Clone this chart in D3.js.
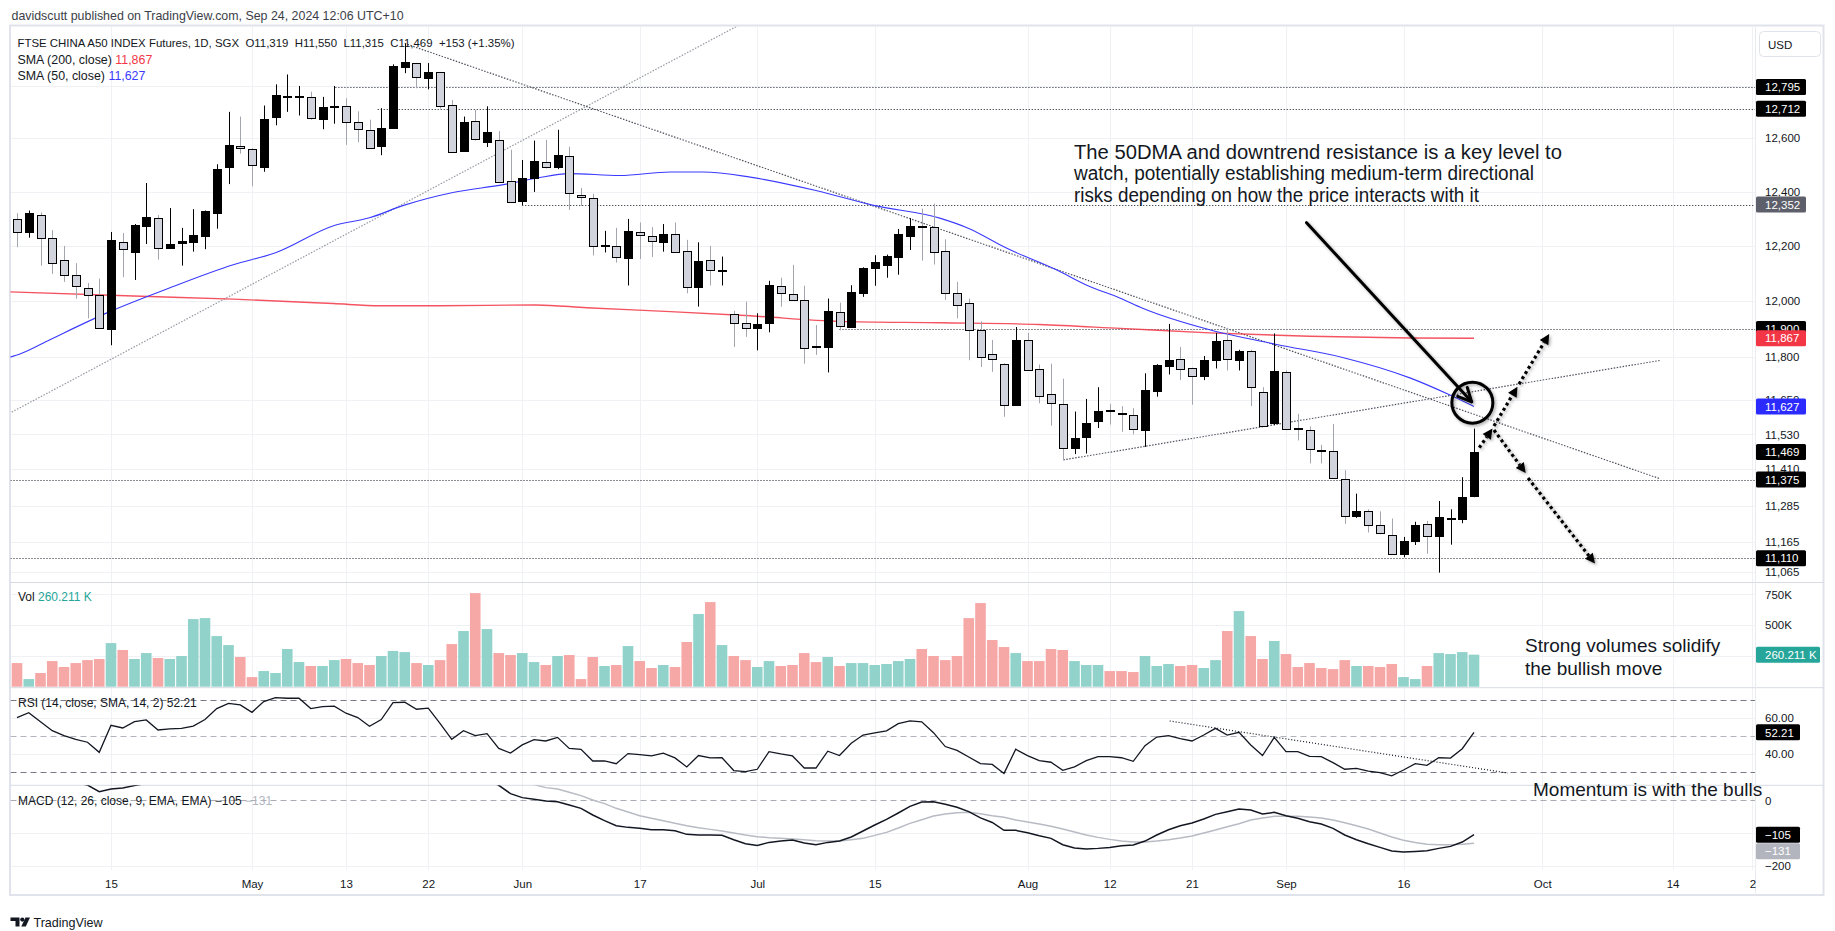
<!DOCTYPE html>
<html><head><meta charset="utf-8">
<script src="https://cdn.jsdelivr.net/npm/d3@7"></script>
<style>
html,body{margin:0;padding:0;background:#fff;}
svg{display:block;font-family:"Liberation Sans",Arial,sans-serif;}
</style></head><body>
<svg id="c" width="1835" height="931"></svg>
<script>
// ---------------- DATA ----------------
const opens=[12300,12250,12312,12228,12148,12093,12048,12020,11900,12213,
12178,12274,12301,12194,12209,12215,12237,12321,12493,12571,
12560,12493,12681,12758,12758,12756,12673,12719,12724,12660,
12632,12570,12638,12873,12886,12828,12851,12726,12552,12666,
12585,12594,12439,12365,12450,12509,12493,12532,12388,12377,
12199,12199,12157,12251,12237,12215,12243,12181,12052,12148,
12110,11953,11921,11902,11920,12053,12024,12003,11839,11835,
11962,11907,12030,12118,12132,12161,12237,12274,12268,12181,
12028,11992,11897,11812,11776,11633,11860,11759,11670,11634,
11482,11522,11575,11615,11605,11598,11546,11682,11769,11792,
11761,11733,11789,11861,11789,11822,11678,11570,11747,11551,
11544,11477,11471,11378,11253,11267,11222,11186,11125,11169,
11223,11185,11240,11240,11319];
const highs=[12320,12330,12323,12258,12200,12137,12065,12081,12251,12247,
12280,12432,12313,12339,12266,12335,12330,12502,12700,12682,
12562,12724,12805,12843,12799,12777,12757,12799,12752,12702,
12670,12714,12882,12963,12888,12887,12853,12745,12682,12708,
12721,12627,12557,12518,12591,12594,12632,12568,12414,12392,
12255,12266,12299,12286,12269,12280,12286,12222,12213,12200,
12161,11965,11998,11956,12073,12084,12131,12055,11914,12009,
11994,12057,12122,12166,12168,12262,12302,12337,12355,12224,
12069,12009,11927,11861,11778,11907,11886,11774,11777,11724,
11609,11653,11694,11636,11628,11621,11743,11775,11918,11836,
11763,11804,11886,11904,11826,11826,11694,11884,11753,11601,
11557,11494,11566,11407,11327,11274,11267,11243,11181,11232,
11235,11302,11274,11383,11550];
const lows=[12195,12230,12128,12098,12069,12008,11938,11900,11842,12086,
12076,12207,12150,12190,12128,12179,12188,12263,12428,12542,
12420,12474,12649,12700,12686,12670,12634,12655,12575,12585,
12560,12536,12636,12848,12790,12786,12712,12545,12550,12591,
12567,12435,12360,12350,12399,12486,12484,12332,12347,12165,
12176,12139,12056,12152,12159,12179,12178,12028,11980,12056,
12056,11836,11872,11824,11888,11980,12000,11777,11808,11746,
11895,11905,12015,12055,12084,12095,12185,12146,12132,12004,
11938,11789,11765,11748,11591,11630,11753,11638,11560,11442,
11462,11464,11552,11564,11539,11530,11487,11661,11739,11719,
11633,11719,11760,11753,11753,11628,11558,11562,11546,11509,
11430,11430,11377,11225,11245,11196,11190,11121,11113,11154,
11125,11062,11155,11227,11315];
const closes=[12250,12320,12228,12139,12093,12053,12020,11902,12222,12188,
12276,12305,12192,12207,12217,12240,12327,12484,12576,12563,
12500,12673,12764,12762,12760,12677,12720,12724,12662,12635,
12563,12639,12876,12891,12832,12851,12724,12548,12662,12598,
12624,12437,12362,12452,12513,12490,12536,12395,12381,12199,
12202,12159,12255,12240,12217,12243,12179,12050,12144,12111,
12113,11921,11904,11918,12057,12028,12003,11833,11837,11965,
11910,12031,12120,12142,12164,12244,12274,12268,12177,12028,
11985,11897,11801,11794,11631,11859,11755,11665,11638,11482,
11519,11568,11611,11612,11602,11550,11684,11772,11790,11758,
11733,11790,11858,11792,11823,11694,11560,11751,11548,11549,
11478,11475,11379,11253,11267,11220,11193,11123,11169,11220,
11185,11247,11244,11316,11469];
// volume in thousands
const volumes=[192,62,111,208,160,192,216,225,354,298,
225,273,233,225,249,549,557,411,338,241,
78,127,111,306,200,168,168,216,225,192,
176,249,290,281,192,176,216,346,452,760,
468,273,257,273,200,176,249,257,62,241,
168,176,330,208,152,176,160,363,590,687,
338,249,216,160,208,168,176,273,200,241,
168,192,192,176,184,208,225,306,249,216,
249,557,679,379,322,273,208,208,306,298,
208,176,176,127,127,119,249,168,184,168,
176,152,216,452,614,411,225,371,265,160,
192,152,143,216,168,168,160,184,78,62,
168,273,265,281,260.211];
const rsi=[60.4,63.1,58.1,53.1,50.4,48.3,46.7,41.1,56.1,54.6,
58.1,59.1,53.5,54.1,54.4,55.7,59.3,65.4,68.3,67.4,
63.3,69.3,71.5,71.1,71.1,65.4,66.5,66.7,62.8,60.4,
55.6,59.3,68.7,68.9,65.0,65.6,57.2,48.3,53.1,50.4,
51.5,43.3,40.7,45.2,48.1,47.4,49.4,43.3,42.8,36.3,
36.3,34.8,40.4,39.8,39.1,40.6,38.0,33.0,39.3,38.0,
38.1,31.0,30.4,31.7,41.5,40.2,39.1,32.4,32.4,41.7,
39.3,46.1,50.7,51.9,53.0,57.0,58.5,58.0,52.0,44.3,
42.2,38.5,34.8,34.4,29.4,42.8,39.3,36.5,35.6,31.1,
33.0,36.5,38.7,38.7,38.1,36.1,44.8,49.6,50.4,48.7,
47.4,50.7,54.4,50.7,52.2,45.2,39.3,49.4,41.5,41.5,
38.9,38.7,35.4,31.7,32.2,30.7,29.8,28.0,31.3,34.8,
33.9,38.1,37.9,43.1,52.21];
const macd=[80,78,74,68,62,55,46.5,26.5,34.7,37.8,
44.9,52,54,56,58,60,64,74,86,94,
98,108,120,128,134,135,136,136,133,128,
120,116,122,128,128,128,120,104,96,84,
64,46,20.4,8.2,3.1,-2.0,-4.1,-14.3,-24.5,-44.9,
-62.2,-77.6,-82.7,-85.7,-89.8,-89.8,-92.9,-104.1,-106.1,-106.1,
-107.1,-120.4,-132.7,-137.8,-128.6,-124.5,-121.4,-130.6,-135.7,-128.6,
-124.5,-112.2,-93.9,-75.5,-58.2,-38.8,-18.4,-5.1,-4.1,-12.2,
-21.4,-34.7,-53.6,-67.8,-91.8,-91.8,-99.0,-108.2,-116.3,-135.7,
-145.9,-149.0,-146.9,-143.9,-138.8,-136.7,-124.5,-106.1,-89.8,-77.6,
-69.4,-57.1,-42.9,-34.7,-26.5,-29.6,-41.8,-36.7,-46.9,-55.1,
-65.3,-72.4,-85.7,-106.1,-120.4,-132.7,-143.9,-155.1,-158.2,-156.1,
-154.1,-146.9,-140.8,-127.6,-105];
const signal=[70,71,71,70,69,67,64,57,53,50,
49,50,51,52,53,55,57,60,65,71,
76,82,90,97,104,110,115,119,122,123,
123,122,122,123,124,125,124,120,115,109,
101,85,72,59,48,38.8,34.7,24.5,14.3,1.0,
-10.2,-24.5,-35.7,-46.9,-55.1,-62.2,-70.4,-77.6,-83.7,-88.8,
-93.9,-100,-106.1,-111.2,-114.3,-116.3,-118.4,-120.4,-123.5,-124.5,
-124.5,-120.4,-116.3,-107.1,-98,-84.7,-70.4,-59.2,-48,-41.8,
-37.8,-36.7,-40.8,-46.9,-52.0,-60.2,-66.3,-72.4,-79.6,-87.8,
-96.9,-106.1,-113.3,-119.4,-124.5,-127.6,-127.6,-124.5,-120.4,-115.3,
-109.2,-100,-90.8,-80.6,-71.4,-60.2,-54.1,-49.0,-49.0,-49.0,
-51.0,-54.1,-60.2,-68.4,-77.6,-87.8,-100,-112,-122,-129,
-134,-136,-136,-134,-131];
// moving averages read at bar positions [bar index, value]
const sma50=[[-0.6,11800],[0.3,11812],[2.8,11862],[7.9,11962],[12.8,12044],[18.4,12131],[22,12175],[27,12275],[30,12303],[32.9,12349],[37.1,12397],[41.4,12426],[44.2,12450],[47,12467],[51.3,12460],[55.6,12473],[58.4,12473],[62.4,12454],[68,12404],[72.9,12349],[78.6,12301],[81,12264],[84.2,12192],[88.5,12112],[91,12058],[93.9,12010],[95.8,11974],[101.5,11897],[107.2,11845],[112.9,11798],[118.6,11726],[122,11666],[124,11627]];
const sma200=[[-0.6,12033],[9.9,12018],[18.4,12007],[26.9,11991],[30.9,11983],[35.7,11983],[44.2,11986],[48.5,11976],[55.6,11962],[62.4,11947],[70,11927],[78.6,11922],[87,11916],[93.9,11902],[101.5,11886],[110,11874],[118.6,11868],[124,11867]];
// horizontal levels and where they start (bar index)
const levelPrices=[12795,12712,12352,11900,11375,11110];
const levelStart=[27.1,30.7,43,70,-1,-1];
// trend lines [bar index, price]
const downTrend=[[33,12963],[139.8,11378]];
const supportTrend=[[89.05,11442],[139.8,11788]];
const earlyTrend=[[-0.45,11607],[61.8,13043]];
const rsiTrend=[[98.1,58.5],[126.9,29.6]];
// annotation drawings [bar index, price]
const bigArrow=[[109.75,12285],[123.8,11643]];
const circleAt=[123.86,11640];
const upArrows=[[[124.45,11484],[125.57,11550]],[[125.7,11559],[127.7,11696]],[[127.83,11705],[130.4,11882]]];
const downArrows=[[[125.7,11545],[128.4,11397]],[[128.6,11380],[134.3,11092]]];
// axis ticks
const priceGrid=[12800,12600,12400,12200,12000,11800,11650,11530,11410,11285,11165,11065];
const priceTicks=[12600,12400,12200,12000,11800,11650,11530,11410,11285,11165,11065];
const volTicks=[750,500];
const volGrid=[750,500,250];
const rsiTicks=[60,40];
const macdTicks=[0,-200];
const macdGrid=[-100,-200];
const timeTickIdx=[8,20,28,35,43,53,63,73,86,93,100,108,118,129.8,140.9,147.7];
const timeTickLabels=['15','May','13','22','Jun','17','Jul','15','Aug','12','21','Sep','16','Oct','14','2'];

// ---------------- LAYOUT ----------------
const svg=d3.select('#c');
const paneL=10.5, paneR=1755;
const pTop=26.5, pBot=582.5, vBot=687.7, rBot=785.3, mBot=870;
const x=d3.scaleLinear().domain([0,124]).range([17,1474]);
const yP=d3.scaleLog().domain([11031,13029]).range([582,26.5]);
const yV=d3.scaleLinear().domain([0,842]).range([686.7,583]);
const yR=d3.scaleLinear().domain([22.8,76.8]).range([785.3,688]);
const yM=d3.scaleLinear().domain([-213,45.9]).range([870,785.3]);
const ink='#131722';

const defs=svg.append('defs');
function clip(id,y0,y1){defs.append('clipPath').attr('id',id).append('rect').attr('x',paneL).attr('y',y0).attr('width',paneR-paneL).attr('height',y1-y0);}
clip('cp',pTop,pBot);clip('cv',pBot,vBot);clip('cr',vBot,rBot);clip('cm',rBot,mBot);clip('call',pTop,mBot+30);
const sh=defs.append('filter').attr('id','shadow').attr('x','-20%').attr('y','-20%').attr('width','140%').attr('height','140%');
sh.append('feDropShadow').attr('dx',1.5).attr('dy',1.5).attr('stdDeviation',1.5).attr('flood-color','#000').attr('flood-opacity',0.35);

// grid
const grid=svg.append('g').attr('clip-path','url(#call)');
timeTickIdx.forEach(t=>{const xx=Math.round(x(t))+0.5;
  if(xx<paneR) grid.append('line').attr('x1',xx).attr('x2',xx).attr('y1',pTop).attr('y2',mBot).attr('stroke','#f0f1f5');});
function hgrid(vals,sc){vals.forEach(v=>{const yy=Math.round(sc(v))+0.5;
  grid.append('line').attr('x1',paneL).attr('x2',paneR).attr('y1',yy).attr('y2',yy).attr('stroke','#f0f1f5');});}
hgrid(priceGrid,yP);hgrid(volGrid,yV);hgrid([60,40],yR);hgrid(macdGrid,yM);

// frame and separators
svg.append('rect').attr('x',paneL-0.5).attr('y',pTop-1).attr('width',1824-paneL).attr('height',895-pTop+1).attr('fill','none').attr('stroke','#e0e3eb').attr('stroke-width',2);
[pBot,vBot,rBot].forEach(v=>svg.append('line').attr('x1',paneL).attr('x2',1824).attr('y1',v).attr('y2',v).attr('stroke','#d8dbe3'));
svg.append('line').attr('x1',paneR+0.5).attr('x2',paneR+0.5).attr('y1',pTop).attr('y2',895).attr('stroke','#e9ebf0');

// ---------- price pane ----------
const gp=svg.append('g').attr('clip-path','url(#cp)');
levelPrices.forEach((p,k)=>{const yy=Math.round(yP(p))+0.5;
  gp.append('line').attr('x1',Math.max(paneL,x(levelStart[k]))).attr('x2',paneR).attr('y1',yy).attr('y2',yy)
    .attr('stroke',ink).attr('stroke-width',1).attr('stroke-dasharray','1,2');});
function tline(g,pts,sx,sy,col,w,dash){g.append('line').attr('x1',sx(pts[0][0])).attr('y1',sy(pts[0][1])).attr('x2',sx(pts[1][0])).attr('y2',sy(pts[1][1]))
  .attr('stroke',col).attr('stroke-width',w).attr('stroke-dasharray',dash);}
tline(gp,earlyTrend,x,yP,'#9598a1',1.2,'1.5,1.5');
tline(gp,downTrend,x,yP,'#50535e',1.2,'1.5,1.5');
tline(gp,supportTrend,x,yP,'#50535e',1.2,'1.5,1.5');
const maLine=d3.line().x(d=>x(d[0])).y(d=>yP(d[1])).curve(d3.curveMonotoneX);
gp.append('path').attr('d',maLine(sma200)).attr('fill','none').attr('stroke','#f23645').attr('stroke-width',1.4).attr('stroke-opacity',0.85);
gp.append('path').attr('d',maLine(sma50)).attr('fill','none').attr('stroke','#3a3aff').attr('stroke-width',1.1);

const candles=gp.append('g');
opens.forEach((o,i)=>{
  const c=closes[i],h=highs[i],l=lows[i],up=c>=o;
  const cx=Math.round(x(i));
  candles.append('line').attr('x1',cx+0.5).attr('x2',cx+0.5).attr('y1',yP(h)).attr('y2',yP(l))
    .attr('stroke',up?'#000':'#a3a6af').attr('stroke-width',1);
  const t=Math.round(yP(Math.max(o,c))),b=Math.round(yP(Math.min(o,c)));
  candles.append('rect').attr('x',cx-3.5).attr('y',t+0.5).attr('width',8).attr('height',Math.max(1,b-t))
    .attr('fill',up?'#000':'#d1d4dc').attr('stroke','#000').attr('stroke-width',1);
});

// annotation drawings
const ga=svg.append('g').attr('clip-path','url(#cp)');
(function(){
  const x1=x(bigArrow[0][0]),y1=yP(bigArrow[0][1]),x2=x(bigArrow[1][0]),y2=yP(bigArrow[1][1]);
  const ang=Math.atan2(y2-y1,x2-x1),L=15,a=0.45;
  const g=ga.append('g').attr('filter','url(#shadow)');
  g.append('line').attr('x1',x1).attr('y1',y1).attr('x2',x2).attr('y2',y2).attr('stroke','#000').attr('stroke-width',3).attr('stroke-linecap','round');
  g.append('path').attr('d',`M${x2-L*Math.cos(ang-a)},${y2-L*Math.sin(ang-a)}L${x2},${y2}L${x2-L*Math.cos(ang+a)},${y2-L*Math.sin(ang+a)}`)
    .attr('fill','none').attr('stroke','#000').attr('stroke-width',3).attr('stroke-linecap','round').attr('stroke-linejoin','round');
  g.append('circle').attr('cx',x(circleAt[0])).attr('cy',yP(circleAt[1])).attr('r',20.5).attr('fill','none').attr('stroke','#000').attr('stroke-width',3);
  function darrow(seg){const ax=x(seg[0][0]),ay=yP(seg[0][1]),bx=x(seg[1][0]),by=yP(seg[1][1]);
    const an=Math.atan2(by-ay,bx-ax),hl=10,hw=5;
    const ex=bx-hl*Math.cos(an),ey=by-hl*Math.sin(an);
    const dg=ga.append('g').attr('filter','url(#shadow)');
    dg.append('line').attr('x1',ax).attr('y1',ay).attr('x2',ex).attr('y2',ey).attr('stroke','#000').attr('stroke-width',3.2).attr('stroke-dasharray','3,3');
    dg.append('path').attr('d',`M${bx},${by}L${ex+hw*Math.sin(an)},${ey-hw*Math.cos(an)}L${ex-hw*Math.sin(an)},${ey+hw*Math.cos(an)}Z`).attr('fill','#000');}
  upArrows.forEach(darrow);downArrows.forEach(darrow);
})();

// ---------- volume pane ----------
const gv=svg.append('g').attr('clip-path','url(#cv)');
volumes.forEach((v,i)=>{const up=closes[i]>=opens[i];
  gv.append('rect').attr('x',x(i)-5.3).attr('y',yV(v)).attr('width',10.6).attr('height',yV(0)-yV(v))
    .attr('fill',up?'#91d2cb':'#f6a8a6');});

// ---------- RSI pane ----------
const gr=svg.append('g').attr('clip-path','url(#cr)');
[[70,'#787b86'],[50,'#b2b5be'],[30,'#787b86']].forEach(([v,col])=>{const yy=Math.round(yR(v))+0.5;
  gr.append('line').attr('x1',paneL).attr('x2',paneR).attr('y1',yy).attr('y2',yy).attr('stroke',col).attr('stroke-dasharray','6,4');});
const lnR=d3.line().x((d,i)=>x(i)).y(d=>yR(d));
gr.append('path').attr('d',lnR(rsi)).attr('fill','none').attr('stroke',ink).attr('stroke-width',1.3);
tline(gr,rsiTrend,x,yR,ink,1.2,'1,2');

// ---------- MACD pane ----------
const gm=svg.append('g').attr('clip-path','url(#cm)');
{const yy=Math.round(yM(0))+0.5;gm.append('line').attr('x1',paneL).attr('x2',paneR).attr('y1',yy).attr('y2',yy).attr('stroke','#a9acb5').attr('stroke-dasharray','6,4');}
const lnM=d3.line().x((d,i)=>x(i)).y(d=>yM(d));
gm.append('path').attr('d',lnM(signal)).attr('fill','none').attr('stroke','#b8bbc3').attr('stroke-width',1.5);
gm.append('path').attr('d',lnM(macd)).attr('fill','none').attr('stroke',ink).attr('stroke-width',1.5);

// ---------- axes ----------
function rAxis(sc,vals,fmt){const g=svg.append('g').attr('transform',`translate(${paneR},0)`)
  .call(d3.axisRight(sc).tickValues(vals).tickFormat(fmt).tickSize(0).tickPadding(10));
  g.select('.domain').remove();g.selectAll('text').attr('font-size',11.5).attr('fill',ink).attr('font-family','"Liberation Sans",Arial,sans-serif');return g;}
rAxis(yP,priceTicks,d3.format(','));
rAxis(yV,volTicks,d=>d+'K');
rAxis(yR,rsiTicks,d3.format('.2f'));
rAxis(yM,macdTicks,d3.format('d'));
const tg=svg.append('g').attr('transform',`translate(0,${mBot+7})`)
  .call(d3.axisBottom(x).tickValues(timeTickIdx).tickFormat((d,i)=>timeTickLabels[i]).tickSize(0).tickPadding(3));
tg.select('.domain').remove();tg.selectAll('text').attr('font-size',11.5).attr('fill',ink).attr('font-family','"Liberation Sans",Arial,sans-serif');

// axis value boxes
function box(yc,txt,fill,w,tf){svg.append('rect').attr('x',paneR+1).attr('y',yc-8).attr('width',w).attr('height',16).attr('rx',1.5).attr('fill',fill);
  svg.append('text').attr('x',paneR+10).attr('y',yc+4.2).attr('font-size',11.5).attr('fill',tf||'#fff').text(txt);}
const f0=d3.format(',');
box(yP(levelPrices[0]),f0(levelPrices[0]),'#000',50);
box(yP(levelPrices[1]),f0(levelPrices[1]),'#000',50);
box(yP(levelPrices[2]),f0(levelPrices[2]),'#5d606b',50);
box(yP(levelPrices[3]),f0(levelPrices[3]),'#000',50);
box(yP(sma200[sma200.length-1][1]),f0(sma200[sma200.length-1][1]),'#f23645',50);
box(yP(sma50[sma50.length-1][1]),f0(sma50[sma50.length-1][1]),'#2b2bff',50);
box(yP(closes[124]),f0(closes[124]),'#000',50);
box(yP(levelPrices[4]),f0(levelPrices[4]),'#000',50);
box(yP(levelPrices[5]),f0(levelPrices[5]),'#000',50);
box(yV(volumes[124]),d3.format('.3f')(volumes[124])+' K','#26a69a',64);
box(yR(rsi[124]),d3.format('.2f')(rsi[124]),'#000',44);
const mY=yM(macd[124]);
box(mY,d3.format('d')(macd[124]),'#000',44);
box(Math.max(yM(signal[124]),mY+16.5),d3.format('d')(signal[124]),'#b2b5be',44);
// USD
svg.append('rect').attr('x',1759.5).attr('y',31.5).attr('width',61).attr('height',25).attr('rx',4).attr('fill','#fff').attr('stroke','#e0e3eb');
svg.append('text').attr('x',1768).attr('y',48.5).attr('font-size',11.5).attr('fill',ink).text('USD');

// ---------- texts ----------
svg.append('text').attr('x',11.5).attr('y',19.5).attr('font-size',12.4).attr('fill','#3b3e48')
  .text('davidscutt published on TradingView.com, Sep 24, 2024 12:06 UTC+10');
svg.append('text').attr('x',17.5).attr('y',47).attr('font-size',11.8).attr('fill',ink).attr('xml:space','preserve')
  .attr('textLength',497).attr('lengthAdjust','spacingAndGlyphs')
  .text('FTSE CHINA A50 INDEX Futures, 1D, SGX  O11,319  H11,550  L11,315  C11,469  +153 (+1.35%)');
const s2=svg.append('text').attr('x',17.5).attr('y',63.5).attr('font-size',12.4).attr('fill',ink);
s2.append('tspan').text('SMA (200, close)  ');s2.append('tspan').attr('fill','#f23645').text('11,867');
const s5=svg.append('text').attr('x',17.5).attr('y',80).attr('font-size',12.4).attr('fill',ink);
s5.append('tspan').text('SMA (50, close)  ');s5.append('tspan').attr('fill','#3a3aff').text('11,627');
const vl=svg.append('text').attr('x',18).attr('y',601).attr('font-size',12).attr('fill',ink);
vl.append('tspan').text('Vol  ');vl.append('tspan').attr('fill','#26a69a').text('260.211 K');
svg.append('text').attr('x',18).attr('y',707).attr('font-size',12).attr('fill',ink).text('RSI (14, close, SMA, 14, 2)  52.21');
const ml=svg.append('text').attr('x',18).attr('y',805).attr('font-size',12).attr('fill',ink);
ml.append('tspan').text('MACD (12, 26, close, 9, EMA, EMA)  −105  ');ml.append('tspan').attr('fill','#b2b5be').text('−131');

const note=['The 50DMA and downtrend resistance is a key level to','watch, potentially establishing medium-term directional','risks depending on how the price interacts with it'];
const noteLen=[488,460,405];
note.forEach((t,k)=>svg.append('text').attr('x',1074).attr('y',159+k*21.3).attr('font-size',19.6).attr('fill',ink)
  .attr('textLength',noteLen[k]).attr('lengthAdjust','spacingAndGlyphs').text(t));
svg.append('text').attr('x',1525).attr('y',652).attr('font-size',19).attr('fill',ink).text('Strong volumes solidify');
svg.append('text').attr('x',1525).attr('y',675).attr('font-size',19).attr('fill',ink).text('the bullish move');
svg.append('text').attr('x',1533).attr('y',796).attr('font-size',19).attr('fill',ink).text('Momentum is with the bulls');

// TradingView logo
const lg=svg.append('g').attr('fill','#131722');
lg.append('path').attr('d','M10.5,917.5h9v9h-4v-5.5h-5z');
lg.append('circle').attr('cx',22.3).attr('cy',919.6).attr('r',2.1);
lg.append('path').attr('d','M25.5,917.5h4.5l-4.2,9h-4.5z');
svg.append('text').attr('x',33.5).attr('y',926.5).attr('font-size',13).attr('fill','#131722').attr('textLength',69).attr('lengthAdjust','spacingAndGlyphs').text('TradingView');
</script>
</body></html>
